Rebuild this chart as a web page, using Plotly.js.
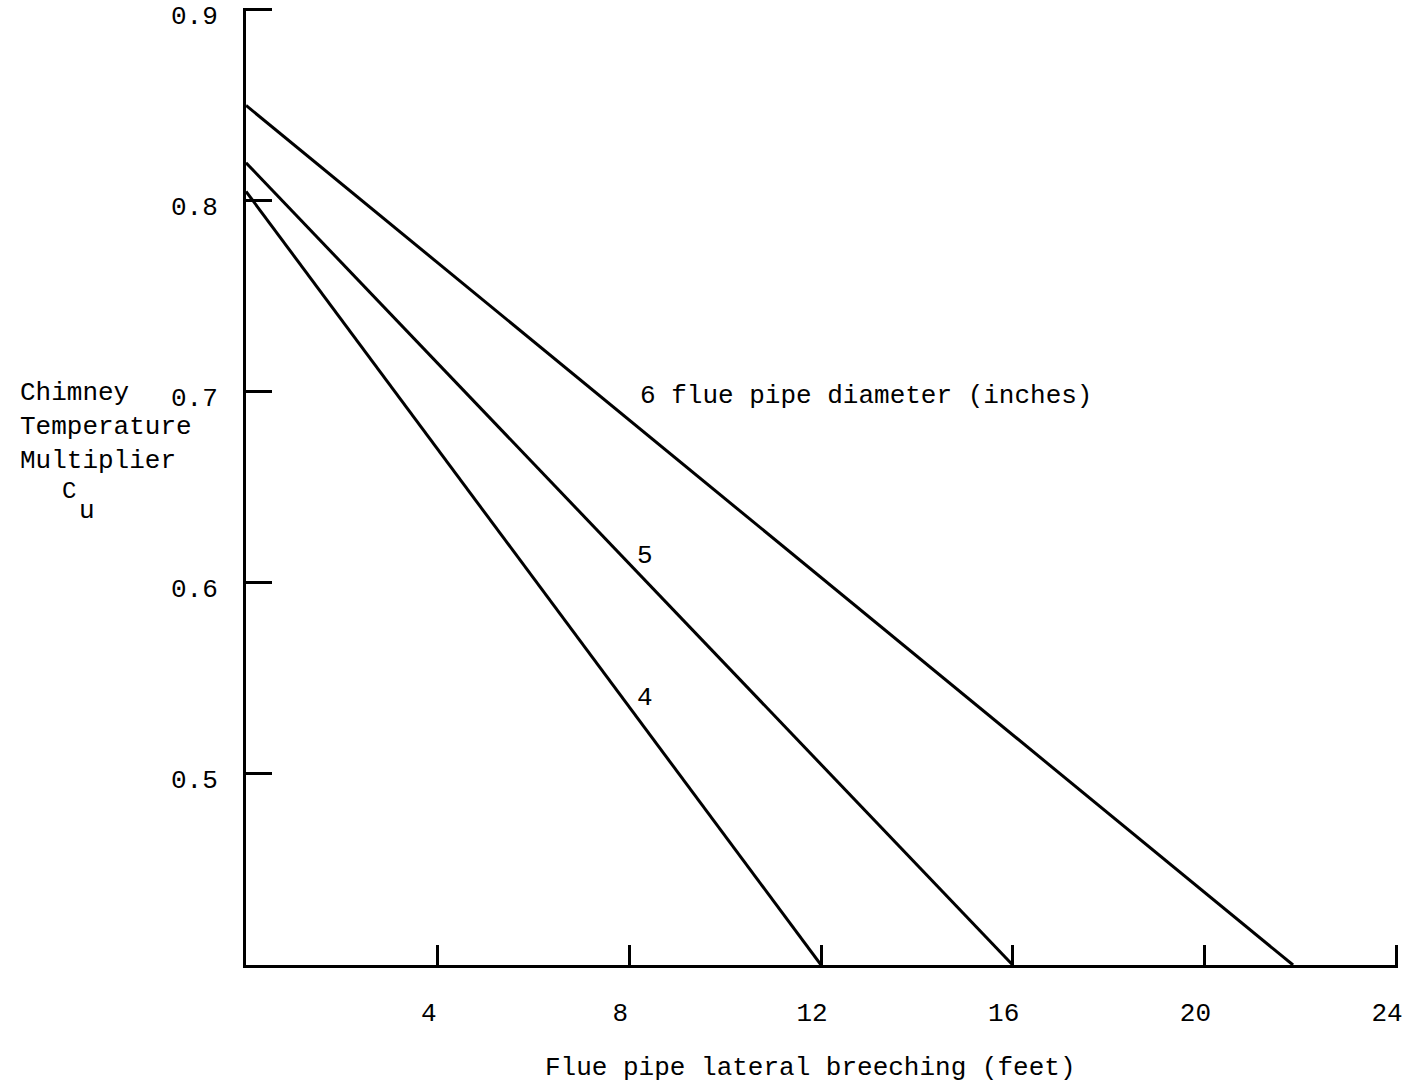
<!DOCTYPE html>
<html>
<head>
<meta charset="utf-8">
<script src="https://cdn.plot.ly/plotly-3.0.1.min.js"></script>
<style>html,body{margin:0;padding:0;background:#fff;}</style>
</head>
<body>
<div id="chart" style="width:1407px;height:1089px;"></div>
<script>
// Flue pipe lateral breeching (feet) -> Chimney temperature multiplier Cu
const diameters = ["4", "5", "6"];
const breechStart = [0, 0, 0];
const breechEnd = [12, 16, 21.85];
const cuStart = [0.805, 0.82, 0.85];
const cuEnd = [0.4, 0.4, 0.4];

const xTicks = [4, 8, 12, 16, 20, 24];
const xTickText = ["4", "8", "12", "16", "20", "24"];
const yTicks = [0.5, 0.6, 0.7, 0.8, 0.9];
const yTickText = ["0.5", "0.6", "0.7", "0.8", "0.9"];

// Line label positions (data coords)
const labelText = ["4", "5", "6 flue pipe diameter (inches)"];
const labelX = [8.33, 8.33, 8.18];
const labelY = [0.54, 0.614, 0.698];

const FONT = "Liberation Mono, Courier New, monospace";

const traces = diameters.map((d, i) => ({
  type: "scatter",
  mode: "lines",
  name: d,
  x: [breechStart[i], breechEnd[i]],
  y: [cuStart[i], cuEnd[i]],
  line: {color: "#000", width: 3},
  hoverinfo: "skip"
}));

const annotations = labelText.map((t, i) => ({
  text: t, x: labelX[i], y: labelY[i], xref: "x", yref: "y",
  xanchor: i === 2 ? "left" : "center", yanchor: "middle",
  showarrow: false, font: {family: FONT, size: 26, color: "#000"}
}));

annotations.push({
  text: "Chimney<br>Temperature<br>Multiplier",
  xref: "paper", yref: "paper", x: -0.198, y: 0.5625,
  xanchor: "left", yanchor: "middle", align: "left",
  showarrow: false, font: {family: FONT, size: 26, color: "#000"}
});
annotations.push({
  text: "C", xref: "paper", yref: "paper", x: -0.154, y: 0.495,
  xanchor: "center", yanchor: "middle", showarrow: false,
  font: {family: FONT, size: 24, color: "#000"}
});
annotations.push({
  text: "u", xref: "paper", yref: "paper", x: -0.138, y: 0.474,
  xanchor: "center", yanchor: "middle", showarrow: false,
  font: {family: FONT, size: 26, color: "#000"}
});
annotations.push({
  text: "Flue pipe lateral breeching (feet)",
  xref: "paper", yref: "paper", x: 0.4904, y: -0.108,
  xanchor: "center", yanchor: "middle", showarrow: false,
  font: {family: FONT, size: 26, color: "#000"}
});

const layout = {
  width: 1407, height: 1089,
  margin: {l: 246, r: 9, t: 8, b: 124},
  paper_bgcolor: "#fff", plot_bgcolor: "#fff",
  showlegend: false,
  font: {family: FONT, size: 26, color: "#000"},
  xaxis: {
    range: [0, 24.04], showgrid: false, zeroline: false,
    showline: true, linecolor: "#000", linewidth: 3,
    ticks: "inside", ticklen: 20, tickwidth: 3, tickcolor: "#000",
    tickvals: xTicks, ticktext: xTickText, ticklabelstandoff: 22,
    ticklabelshift: -9, ticklabeloverflow: "allow",
    tickfont: {family: FONT, size: 26, color: "#000"}
  },
  yaxis: {
    range: [0.4, 0.901], showgrid: false, zeroline: false,
    showline: true, linecolor: "#000", linewidth: 3,
    ticks: "inside", ticklen: 26, tickwidth: 3, tickcolor: "#000",
    tickvals: yTicks, ticktext: yTickText, ticklabelstandoff: 20,
    ticklabelshift: 5, ticklabeloverflow: "allow",
    tickfont: {family: FONT, size: 26, color: "#000"}
  },
  annotations: annotations
};

Plotly.newPlot("chart", traces, layout, {displayModeBar: false, staticPlot: true});
</script>
</body>
</html>
